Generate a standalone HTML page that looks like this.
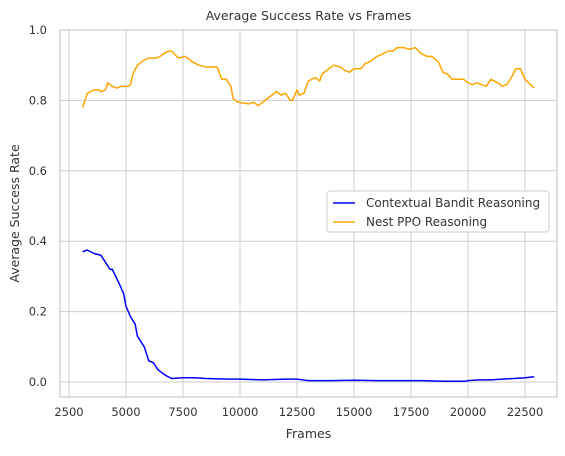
<!DOCTYPE html>
<html><head><meta charset="utf-8"><style>
body{margin:0;background:#fff;font-family:"Liberation Sans","DejaVu Sans",sans-serif}
text{font-family:"DejaVu Sans","Liberation Sans",sans-serif;fill:#333}
</style></head><body>
<svg id="c" width="565" height="451" xmlns="http://www.w3.org/2000/svg"></svg>
<script>
const xTicks=[2500,5000,7500,10000,12500,15000,17500,20000,22500];
const yTicks=[0.0,0.2,0.4,0.6,0.8,1.0];
const ppoFrames=[3100,3300,3600,3800,3900,4100,4200,4400,4600,4800,5100,5200,5300,5500,5800,6000,6300,6500,6700,6900,7000,7300,7600,7900,8200,8500,9000,9200,9400,9600,9700,9900,10400,10600,10800,11100,11400,11600,11800,12000,12200,12300,12500,12600,12800,13000,13300,13500,13600,13900,14100,14400,14600,14800,15000,15300,15500,15700,16000,16200,16500,16700,16900,17200,17400,17700,17900,18200,18400,18700,18900,19100,19300,19800,20000,20200,20400,20600,20800,21000,21300,21500,21700,21900,22100,22300,22500,22900];
const ppoValues=[.78,.82,.83,.83,.825,.83,.85,.84,.835,.84,.84,.845,.875,.9,.915,.92,.92,.925,.935,.94,.94,.92,.925,.91,.9,.895,.895,.86,.86,.84,.805,.795,.79,.795,.785,.8,.815,.825,.815,.82,.8,.8,.83,.815,.82,.855,.865,.855,.875,.89,.9,.895,.885,.88,.89,.89,.905,.91,.925,.93,.94,.94,.95,.95,.945,.95,.935,.925,.925,.91,.88,.875,.86,.86,.85,.845,.85,.845,.84,.86,.85,.84,.845,.865,.89,.89,.86,.835];
const cbFrames=[3100,3300,3600,3900,4100,4300,4400,4700,4900,5000,5200,5400,5500,5800,6000,6200,6400,6700,7000,7500,8000,8500,9500,10000,11000,12000,12500,13000,14000,15000,16000,17000,18000,18500,19000,19900,20000,20500,21000,21500,22000,22500,22900];
const cbValues=[.37,.375,.365,.36,.34,.32,.32,.28,.25,.215,.185,.165,.13,.1,.06,.055,.035,.02,.01,.012,.012,.01,.008,.008,.006,.008,.008,.004,.004,.005,.004,.004,.004,.003,.002,.002,.004,.006,.006,.008,.01,.012,.015];
const L=60,R=557,T=30,B=397;
const X=v=>69+(v-2500)*(456/20000);
const Y=v=>382-v*352;
const svg=document.getElementById('c');const NS='http://www.w3.org/2000/svg';
function mk(t,a,p){const e=document.createElementNS(NS,t);for(const k in a)e.setAttribute(k,a[k]);(p||svg).appendChild(e);return e;}
const grid=mk('g',{});
xTicks.forEach(t=>{const l=mk('line',{x1:X(t),x2:X(t),y1:T,y2:B,stroke:'#ccc','stroke-width':1},grid);
const tx=mk('text',{x:X(t),y:B+19,'text-anchor':'middle','font-size':11.5});tx.textContent=t;});
yTicks.forEach(t=>{const l=mk('line',{x1:L,x2:R,y1:Y(t),y2:Y(t),stroke:'#ccc','stroke-width':1},grid);
const tx=mk('text',{x:L-13,y:Y(t)+4,'text-anchor':'end','font-size':11.5});tx.textContent=t.toFixed(1);});
const fr=mk('rect',{x:L,y:T,width:R-L,height:B-T,fill:'none',stroke:'#ccc','stroke-width':1.2});
function line(xs,ys,c,n){const p=mk('polyline',{points:xs.map((x,i)=>X(x)+','+Y(ys[i])).join(' '),fill:'none',stroke:c,'stroke-width':1.5,'stroke-linejoin':'round'});}
line(cbFrames,cbValues,'#0000ff','contextual-bandit-line');
line(ppoFrames,ppoValues,'#ffa500','nest-ppo-line');
const ti=mk('text',{x:(L+R)/2,y:20,'text-anchor':'middle','font-size':12.5});ti.textContent='Average Success Rate vs Frames';
const xl=mk('text',{x:(L+R)/2,y:438,'text-anchor':'middle','font-size':12.5});xl.textContent='Frames';
const yl=mk('text',{x:0,y:0,'text-anchor':'middle','font-size':12.5,transform:`translate(19,${(T+B)/2}) rotate(-90)`});yl.textContent='Average Success Rate';
const lg=mk('g',{});
mk('rect',{x:327,y:191,width:222,height:41,rx:3,fill:'#fff','fill-opacity':0.85,stroke:'#ccc'},lg);
[['Contextual Bandit Reasoning','#0000ff',203],['Nest PPO Reasoning','#ffa500',222]].forEach(([t,c,y])=>{
const g=mk('g',{},lg);
mk('line',{x1:333,x2:355,y1:y,y2:y,stroke:c,'stroke-width':1.5},g);
const tx=mk('text',{x:366,y:y+4,'font-size':12},g);tx.textContent=t;});
</script>
</body></html>
